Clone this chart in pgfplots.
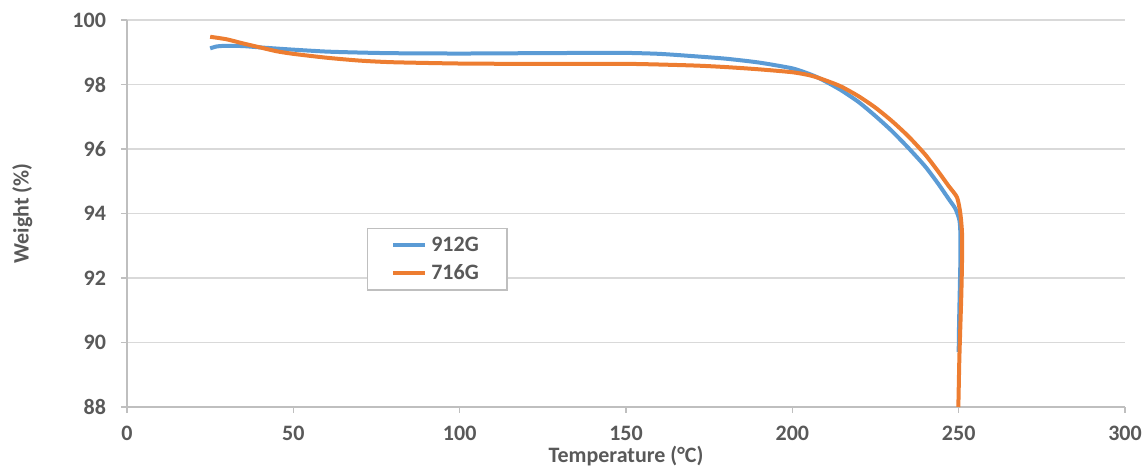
\documentclass[border=0pt]{standalone}
\usepackage{fontspec}
\setmainfont{Carlito}
\usepackage{pgfplots}
\pgfplotsset{compat=1.18}
\definecolor{cBlue}{RGB}{91,155,213}
\definecolor{cOrange}{RGB}{237,125,49}
\definecolor{cText}{RGB}{89,89,89}
\definecolor{cGrid}{RGB}{217,217,217}
\definecolor{cAxis}{RGB}{191,191,191}

\begin{document}
\begin{tikzpicture}
\begin{axis}[
  name=tga,
  scale only axis, width=499pt, height=193.5pt,
  xmin=0, xmax=300, ymin=88, ymax=100,
  xtick={0,50,...,300}, ytick={88,90,...,100},
  axis lines*=left,
  axis line style={cAxis, line width=0.8pt},
  tick style={cAxis, line width=0.8pt},
  tick align=outside, major tick length=3pt,
  ymajorgrids, grid style={cGrid, line width=0.8pt},
  /pgf/number format/assume math mode=true,
  tick label style={font=\fontsize{11}{13}\selectfont\bfseries, text=cText},
  xticklabel style={yshift=-3pt},
  yticklabel style={xshift=-4pt},
  label style={font=\fontsize{11}{13}\selectfont\bfseries, text=cText},
  xlabel={Temperature (°C)},
  ylabel={Weight (\%)},
  xlabel style={at={(axis description cs:0.5,-0.127)}, anchor=center},
  ylabel style={at={(axis description cs:-0.105,0.5)}, anchor=center},
  legend style={at={(0.24,0.463)}, anchor=north west, draw=cAxis,
    line width=0.8pt, font=\fontsize{11}{13}\selectfont\bfseries, text=cText,
    inner xsep=12pt, inner ysep=2pt, row sep=1pt},
  legend cell align=left,
  legend image code/.code={\draw[#1, line width=2pt] (0pt,0pt) -- (16pt,0pt);},
  clip=false,
]
\addplot[cBlue, line width=2pt, smooth, tension=0.4] coordinates {
  (25,99.12) (27,99.18) (30,99.20) (35,99.19) (40,99.15) (50,99.08)
  (60,99.02) (70,98.99) (80,98.97) (100,98.96) (120,98.97) (140,98.98)
  (150,98.98) (160,98.95) (170,98.88) (180,98.80) (190,98.68) (200,98.50)
  (205,98.33) (208,98.20) (212,97.98) (215,97.80) (220,97.45) (225,97.02)
  (230,96.55) (235,96.02) (240,95.45) (244,94.90) (247,94.45) (249,94.15)
  (250.2,93.80) (250.5,93.40) (250.5,92.5) (250.3,91.5) (250.1,90.5) (250.0,89.7)};
\addlegendentry{912G\hspace{12pt}}
\addplot[cOrange, line width=2pt, smooth, tension=0.4] coordinates {
  (25,99.48) (30,99.40) (35,99.27) (40,99.15) (45,99.03) (50,98.95)
  (60,98.83) (70,98.74) (80,98.69) (100,98.65) (120,98.64) (150,98.64)
  (170,98.59) (180,98.54) (190,98.47) (200,98.38) (205,98.29) (208,98.20)
  (212,98.05) (215,97.92) (220,97.63) (225,97.28) (230,96.86) (235,96.38)
  (240,95.82) (244,95.28) (247,94.85) (249.5,94.50) (250.5,94.0) (251,93.4)
  (251,92.5) (250.8,91.5) (250.5,90.5) (250.2,89.5) (250,88.5) (249.9,88.0)};
\addlegendentry{716G\hspace{12pt}}
\end{axis}
\pgfresetboundingbox
\path[use as bounding box] ([shift={(-63.5pt,-30.5pt)}]tga.south west)
  rectangle ([shift={(9pt,10pt)}]tga.north east);
\end{tikzpicture}
\end{document}
